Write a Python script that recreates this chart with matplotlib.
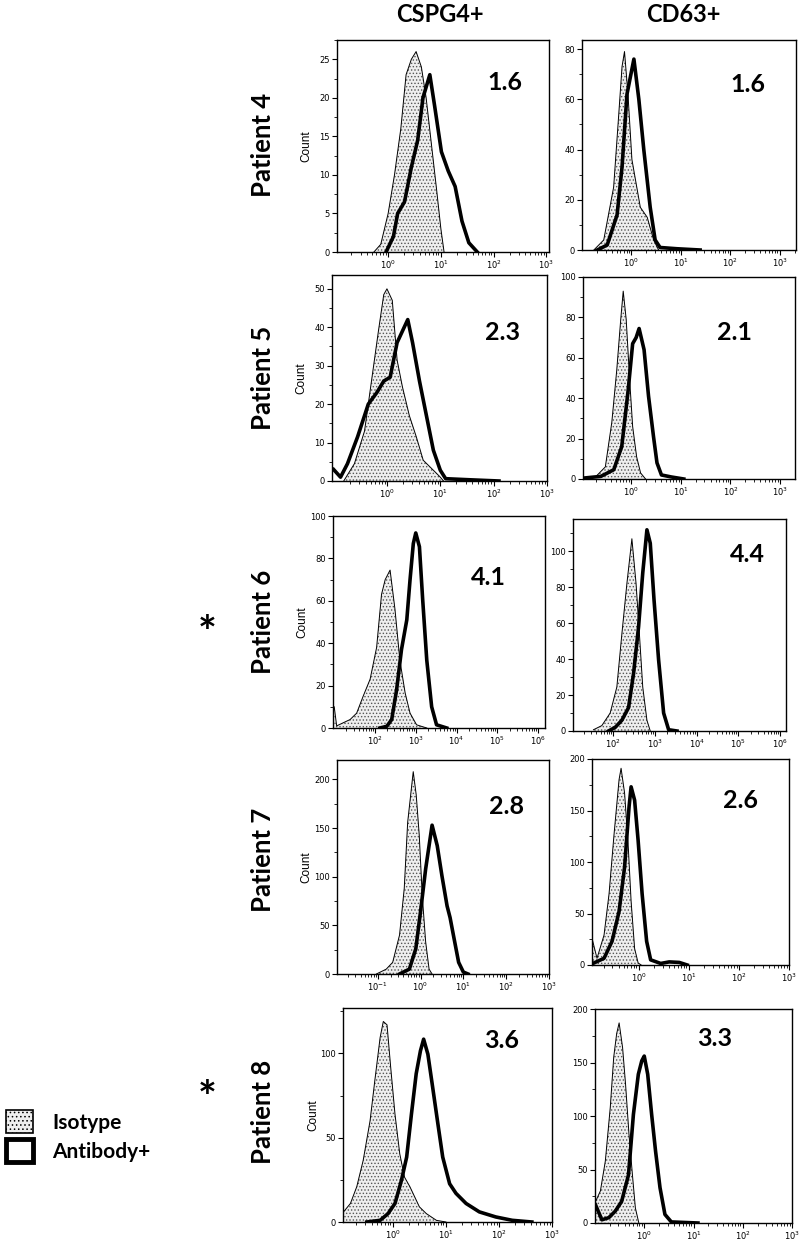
import numpy as np
import matplotlib
matplotlib.use("Agg")
import matplotlib.pyplot as plt
from matplotlib.patches import Patch
from matplotlib.ticker import AutoMinorLocator, FixedLocator, LogLocator, MultipleLocator

# x values are log10 of fluorescence intensity, y values are counts
# Patient 4
p4_cspg4_iso_x = [-0.27, -0.14, 0.0, 0.12, 0.24, 0.34, 0.44, 0.53, 0.63, 0.72, 0.82, 0.92, 1.0, 1.06]
p4_cspg4_iso_y = [0, 1, 5, 10, 16, 23, 25, 26, 24, 20, 14, 8, 3, 0]
p4_cspg4_ab_x = [-0.04, 0.1, 0.18, 0.31, 0.44, 0.56, 0.66, 0.79, 0.88, 1.01, 1.14, 1.27, 1.4, 1.53, 1.69]
p4_cspg4_ab_y = [0, 2, 5, 6.5, 11, 14.5, 20, 23, 19, 13, 10.5, 8.5, 4, 1.2, 0]
p4_cd63_iso_x = [-0.76, -0.56, -0.36, -0.26, -0.19, -0.14, -0.07, 0.01, 0.18, 0.32, 0.45, 0.55]
p4_cd63_iso_y = [0, 4, 25, 53, 73, 79, 62, 36, 17, 13, 4, 0]
p4_cd63_ab_x = [-0.69, -0.49, -0.29, -0.19, -0.09, 0.05, 0.15, 0.25, 0.38, 0.48, 0.58, 0.92, 1.39]
p4_cd63_ab_y = [0, 2, 14, 33, 62, 76, 60, 40, 17, 4, 1, 0.5, 0]

# Patient 5
p5_cspg4_iso_x = [-0.81, -0.61, -0.42, -0.26, -0.16, -0.06, 0.0, 0.1, 0.19, 0.29, 0.42, 0.55, 0.68, 0.87, 1.0, 1.06]
p5_cspg4_iso_y = [0, 4.5, 13, 29, 39, 48.5, 50, 47, 31.5, 24.5, 17, 11.5, 5.4, 2.8, 1, 0]
p5_cspg4_ab_x = [-1.0, -0.87, -0.74, -0.55, -0.35, -0.19, -0.06, 0.06, 0.19, 0.29, 0.39, 0.48, 0.61, 0.74, 0.87, 1.0, 1.1, 1.58, 2.1]
p5_cspg4_ab_y = [3, 1, 4.5, 11.5, 20, 23, 26, 27, 36, 39, 42, 36, 26, 17, 8, 2.8, 0.6, 0.3, 0]
p5_cd63_iso_x = [-0.68, -0.52, -0.39, -0.29, -0.21, -0.16, -0.1, -0.03, 0.03, 0.11, 0.19, 0.29]
p5_cd63_iso_y = [2, 6, 28, 54, 79, 93, 79, 49, 26, 11, 3, 0]
p5_cd63_ab_x = [-0.94, -0.61, -0.35, -0.19, -0.06, 0.03, 0.1, 0.16, 0.26, 0.35, 0.45, 0.52, 0.61, 0.81, 1.06]
p5_cd63_ab_y = [0.5, 1.3, 4.6, 16, 44, 67, 70, 74.5, 64, 41, 21, 8, 2, 1, 0]

# Patient 6
p6_cspg4_iso_x = [1.0, 1.06, 1.39, 1.55, 1.71, 1.88, 2.04, 2.16, 2.25, 2.37, 2.49, 2.61, 2.74, 2.86, 3.02, 3.27]
p6_cspg4_iso_y = [10, 1, 4, 7, 15, 23, 38, 63, 70, 74.5, 56, 32, 16.5, 7, 1.5, 0]
p6_cspg4_ab_x = [2.12, 2.29, 2.41, 2.53, 2.65, 2.78, 2.86, 2.94, 3.0, 3.09, 3.17, 3.27, 3.39, 3.51, 3.76]
p6_cspg4_ab_y = [0, 0.8, 4, 18, 37, 51, 70, 87, 92, 85.5, 60.5, 32, 10, 1.5, 0]
p6_cd63_iso_x = [1.53, 1.73, 1.93, 2.09, 2.21, 2.33, 2.45, 2.55, 2.63, 2.71, 2.81, 2.89]
p6_cd63_iso_y = [0.7, 3, 10, 24.5, 54, 82, 107, 82, 54, 24.5, 6, 0]
p6_cd63_ab_x = [1.89, 2.05, 2.21, 2.37, 2.49, 2.61, 2.71, 2.81, 2.89, 2.98, 3.09, 3.21, 3.33, 3.53]
p6_cd63_ab_y = [0, 2, 6, 13, 32, 58, 88, 112, 104.5, 73, 39.5, 10, 0.7, 0]

# Patient 7
p7_cspg4_iso_x = [-1.03, -0.8, -0.65, -0.49, -0.38, -0.3, -0.23, -0.17, -0.1, -0.03, 0.04, 0.12, 0.2, 0.27]
p7_cspg4_iso_y = [0, 5, 12, 40, 88, 156, 184, 208, 184, 143, 81, 33, 5, 0]
p7_cspg4_ab_x = [-0.49, -0.26, -0.11, 0.0, 0.12, 0.2, 0.27, 0.39, 0.5, 0.62, 0.69, 0.77, 0.89, 1.0, 1.11]
p7_cspg4_ab_y = [0, 5, 26, 64, 108, 132, 153, 132, 101, 70, 58, 39.5, 12, 2, 0]
p7_cd63_iso_x = [-0.93, -0.83, -0.69, -0.59, -0.49, -0.39, -0.35, -0.28, -0.21, -0.15, -0.08, -0.01, 0.05]
p7_cd63_iso_y = [26, 6.5, 29, 69, 127, 180, 191, 167, 118, 62, 16, 2, 0]
p7_cd63_ab_x = [-0.89, -0.69, -0.53, -0.39, -0.28, -0.19, -0.15, -0.08, -0.01, 0.07, 0.16, 0.24, 0.44, 0.61, 0.81, 0.97]
p7_cd63_ab_y = [2, 6.5, 23, 52, 95, 154, 173, 160, 121, 69, 23, 5, 1.5, 3, 2.5, 0]

# Patient 8
p8_cspg4_iso_x = [-0.93, -0.8, -0.68, -0.56, -0.43, -0.34, -0.24, -0.18, -0.11, -0.04, 0.04, 0.13, 0.22, 0.32, 0.41, 0.5, 0.63, 0.82, 1.0]
p8_cspg4_iso_y = [6, 11, 21, 36.5, 60, 84, 109.5, 119, 117, 91.5, 64, 40.5, 26.6, 21, 15, 9, 5, 1, 0]
p8_cspg4_ab_x = [-0.49, -0.24, -0.09, 0.04, 0.16, 0.26, 0.35, 0.44, 0.52, 0.58, 0.66, 0.75, 0.85, 0.94, 1.07, 1.19, 1.38, 1.63, 1.94, 2.25, 2.62]
p8_cspg4_ab_y = [0, 1, 5, 11, 24.5, 38.5, 64, 88, 101.6, 108.5, 99.6, 80, 58, 38.5, 22.7, 17, 11, 6, 3, 1, 0]
p8_cd63_iso_x = [-0.99, -0.89, -0.79, -0.69, -0.62, -0.56, -0.51, -0.44, -0.38, -0.31, -0.24, -0.18, -0.11]
p8_cd63_iso_y = [20, 30, 58, 108, 155, 177, 187, 164, 130, 83, 45, 14, 0]
p8_cd63_ab_x = [-0.99, -0.86, -0.72, -0.59, -0.46, -0.32, -0.22, -0.12, -0.05, 0.0, 0.07, 0.15, 0.23, 0.32, 0.42, 0.55, 1.09]
p8_cd63_ab_y = [17, 3, 5, 11, 20, 45, 101.5, 139, 151.6, 156, 139, 101.5, 67, 33, 8, 1, 0]

patients = ["Patient 4", "Patient 5", "Patient 6", "Patient 7", "Patient 8"]
markers = ["CSPG4+", "CD63+"]
ratios = [["1.6", "1.6"], ["2.3", "2.1"], ["4.1", "4.4"], ["2.8", "2.6"], ["3.6", "3.3"]]

curves = [
    [(p4_cspg4_iso_x, p4_cspg4_iso_y, p4_cspg4_ab_x, p4_cspg4_ab_y),
     (p4_cd63_iso_x, p4_cd63_iso_y, p4_cd63_ab_x, p4_cd63_ab_y)],
    [(p5_cspg4_iso_x, p5_cspg4_iso_y, p5_cspg4_ab_x, p5_cspg4_ab_y),
     (p5_cd63_iso_x, p5_cd63_iso_y, p5_cd63_ab_x, p5_cd63_ab_y)],
    [(p6_cspg4_iso_x, p6_cspg4_iso_y, p6_cspg4_ab_x, p6_cspg4_ab_y),
     (p6_cd63_iso_x, p6_cd63_iso_y, p6_cd63_ab_x, p6_cd63_ab_y)],
    [(p7_cspg4_iso_x, p7_cspg4_iso_y, p7_cspg4_ab_x, p7_cspg4_ab_y),
     (p7_cd63_iso_x, p7_cd63_iso_y, p7_cd63_ab_x, p7_cd63_ab_y)],
    [(p8_cspg4_iso_x, p8_cspg4_iso_y, p8_cspg4_ab_x, p8_cspg4_ab_y),
     (p8_cd63_iso_x, p8_cd63_iso_y, p8_cd63_ab_x, p8_cd63_ab_y)],
]

# axis ranges (log10 x limits, labelled decades, y top, y tick step)
x_ranges = [[(-0.97, 3.05), (-1.0, 3.33)],
            [(-1.03, 3.0), (-0.97, 3.3)],
            [(0.97, 6.17), (1.04, 6.14)],
            [(-1.95, 3.0), (-0.93, 3.0)],
            [(-0.94, 3.0), (-1.0, 3.0)]]
x_decades = [[[0, 1, 2, 3], [0, 1, 2, 3]],
             [[0, 1, 2, 3], [0, 1, 2, 3]],
             [[2, 3, 4, 5, 6], [2, 3, 4, 5, 6]],
             [[-1, 0, 1, 2, 3], [0, 1, 2, 3]],
             [[0, 1, 2, 3], [0, 1, 2, 3]]]
y_tops = [[27.5, 83.6], [53.6, 100], [100, 118], [220, 200], [127, 200]]
y_steps = [[5, 20], [10, 20], [20, 20], [50, 50], [50, 50]]

# panel boxes in pixels: left, top, right, bottom
W, H = 800, 1241
boxes = [[(337, 40, 549, 252), (582, 40, 796, 250)],
         [(332, 275, 547, 481), (583, 277, 795, 479)],
         [(333, 516, 545, 728), (573, 519, 786, 731)],
         [(337, 760, 549, 974), (592, 759, 789, 965)],
         [(343, 1008, 552, 1222), (595, 1009, 792, 1223)]]
ratio_pos = [[(505, 82), (748, 85)],
             [(503, 333), (735, 333)],
             [(488, 577), (747, 555)],
             [(507, 807), (740, 800)],
             [(502, 1040), (715, 1038)]]
row_centers = [145, 378, 622, 860, 1112]
star_y = [634, 1099]

plt.rcParams['hatch.linewidth'] = 0.6
big_font = ['Lato', 'DejaVu Sans']

fig = plt.figure(figsize=(8, 12.41), dpi=100)
fig.patch.set_facecolor('white')

for r in range(5):
    for c in range(2):
        L, T, R, B = boxes[r][c]
        ax = fig.add_axes([L / W, 1 - B / H, (R - L) / W, (B - T) / H])
        iso_x, iso_y, ab_x, ab_y = curves[r][c]
        ix = 10 ** np.array(iso_x)
        ax.fill_between(ix, iso_y, 0, facecolor='#eeeeee', edgecolor='#555555',
                        hatch='.....', linewidth=0, zorder=1)
        ax.plot(ix, iso_y, color='black', lw=0.7, zorder=2)
        ax.plot(10 ** np.array(ab_x), ab_y, color='black', lw=2.6, zorder=3,
                solid_joinstyle='round')
        ax.set_xscale('log')
        xlo, xhi = x_ranges[r][c]
        ax.set_xlim(10 ** xlo, 10 ** xhi)
        ax.set_ylim(0, y_tops[r][c])
        ax.yaxis.set_major_locator(MultipleLocator(y_steps[r][c]))
        ax.yaxis.set_minor_locator(AutoMinorLocator(2))
        ax.xaxis.set_major_locator(FixedLocator([10.0 ** d for d in x_decades[r][c]]))
        ax.xaxis.set_minor_locator(LogLocator(base=10, subs=np.arange(2, 10), numticks=12))
        ax.tick_params(which='major', direction='out', length=3.5, width=0.8,
                       labelsize=6, pad=1.5)
        ax.tick_params(which='minor', direction='out', length=2, width=0.6)
        for s in ax.spines.values():
            s.set_linewidth(1.0)
        if c == 0:
            ax.set_ylabel('Count', fontsize=8.5, family='Liberation Sans')
            ax.yaxis.set_label_coords(-0.115, 0.5)
        tx, ty = ratio_pos[r][c]
        fig.text(tx / W, 1 - ty / H, ratios[r][c], ha='center', va='center',
                 fontsize=18, fontweight='bold', family=big_font)

# column headers
fig.text(440 / W, 1 - 15 / H, markers[0], ha='center', va='center',
         fontsize=17, fontweight='bold', family=big_font)
fig.text(683 / W, 1 - 15 / H, markers[1], ha='center', va='center',
         fontsize=17, fontweight='bold', family=big_font)

# row labels
for name, yc in zip(patients, row_centers):
    fig.text(263 / W, 1 - yc / H, name, rotation=90, ha='center', va='center',
             fontsize=18.5, fontweight='bold', family=big_font)

# asterisks for patients 6 and 8
for sy in star_y:
    fig.text(207 / W, 1 - sy / H, '*', ha='center', va='center',
             fontsize=32, fontweight='bold', family=big_font)

handles = [Patch(facecolor='#eeeeee', edgecolor='black', hatch='....', linewidth=1.2),
           Patch(facecolor='white', edgecolor='black', linewidth=3.5)]
fig.legend(handles, ['Isotype', 'Antibody+'], loc='upper left',
           bbox_to_anchor=(0.0, 1 - 1104 / H), frameon=False,
           prop={'family': big_font, 'weight': 'bold', 'size': 15},
           handlelength=1.3, handleheight=1.3, handletextpad=0.9,
           labelspacing=0.3, borderaxespad=0.0, borderpad=0.3)

fig.savefig('out.png', dpi=100)
